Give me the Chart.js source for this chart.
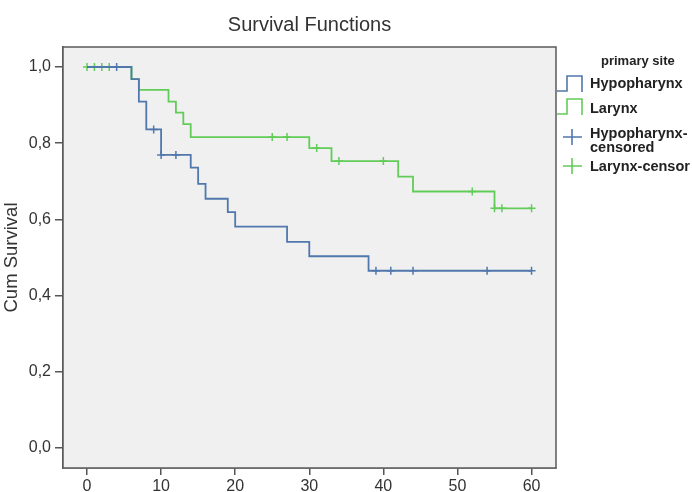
<!DOCTYPE html>
<html>
<head>
<meta charset="utf-8">
<script src="https://cdn.jsdelivr.net/npm/chart.js@4"></script>
<style>
  html, body { margin: 0; padding: 0; background: #fff; overflow: hidden; }
  #wrap { position: relative; width: 692px; height: 492px; }
  #legend { position: absolute; left: 556px; top: 0; width: 136px; height: 492px; overflow: hidden;
            font-family: "Liberation Sans", Arial, sans-serif; font-size: 14.5px; font-weight: bold; color: #222; }
  #legend .ttl { position: absolute; left: 45px; top: 53px; font-size: 13px; }
  #legend .txt { position: absolute; left: 34px; white-space: nowrap; line-height: 16px; }
  #legend svg { position: absolute; left: 0; }
</style>
</head>
<body>
<div id="wrap">
  <canvas id="kmChart" width="692" height="492"></canvas>
  <div id="legend">
    <div class="ttl">primary site</div>
    <svg style="top:74px" width="30" height="20"><path d="M1 17 H11 V2 H26 V18" fill="none" stroke="#5078ac" stroke-width="1.6"/></svg>
    <div class="txt" style="top:75px">Hypopharynx</div>
    <svg style="top:97px" width="30" height="20"><path d="M1 17 H11 V2 H26 V18" fill="none" stroke="#62cc58" stroke-width="1.6"/></svg>
    <div class="txt" style="top:100px">Larynx</div>
    <svg style="top:127px" width="30" height="20"><path d="M7 10 H26 M16 2 V18" fill="none" stroke="#5078ac" stroke-width="1.6"/></svg>
    <div class="txt" style="top:125px">Hypopharynx-</div>
    <div class="txt" style="top:139px">censored</div>
    <svg style="top:156px" width="30" height="20"><path d="M7 10 H26 M16 2 V18" fill="none" stroke="#62cc58" stroke-width="1.6"/></svg>
    <div class="txt" style="top:158px">Larynx-censor</div>
  </div>
</div>
<script>
// tempi (mesi) e sopravvivenza cumulata
const hypoTimes = [0, 6, 7, 8, 10, 14, 15, 16, 19, 20, 27, 30, 38, 60];
const hypoSurv  = [1, 0.968, 0.909, 0.836, 0.769, 0.736, 0.693, 0.654, 0.619, 0.581, 0.541, 0.503, 0.465, 0.465];
const hypoCensTimes = [4, 9, 10, 12, 39, 41, 44, 54, 60];
const hypoCensSurv  = [1, 0.836, 0.769, 0.769, 0.465, 0.465, 0.465, 0.465, 0.465];

const larTimes = [0, 6, 7, 11, 12, 13, 14, 30, 33, 42, 44, 55, 60];
const larSurv  = [1, 0.968, 0.940, 0.909, 0.880, 0.850, 0.816, 0.787, 0.753, 0.712, 0.673, 0.629, 0.629];
const larCensTimes = [0, 1, 2, 3, 25, 27, 31, 34, 40, 52, 55, 56, 60];
const larCensSurv  = [1, 1, 1, 1, 0.816, 0.816, 0.787, 0.753, 0.753, 0.673, 0.629, 0.629, 0.629];

const xTicks = [0, 10, 20, 30, 40, 50, 60];
const yTicks = [0, 0.2, 0.4, 0.6, 0.8, 1.0];

const BLUE = '#5078ac';
const GREEN = '#62cc58';

const toPts = (xs, ys) => xs.map((x, i) => ({ x: x, y: ys[i] }));

// sfondo grigio + cornice dell'area del grafico
const frame = {
  id: 'frame',
  beforeDatasetsDraw(chart) {
    const a = chart.chartArea, c = chart.ctx;
    c.save();
    c.fillStyle = '#f0f0f0';
    c.fillRect(a.left, a.top, a.right - a.left, a.bottom - a.top);
    c.restore();
  },
  afterDatasetsDraw(chart) {
    const a = chart.chartArea, c = chart.ctx;
    c.save();
    c.strokeStyle = '#5a5a5a';
    c.lineWidth = 1.5;
    c.strokeRect(a.left, a.top, a.right - a.left, a.bottom - a.top);
    c.restore();
  }
};

const font = { family: '"Liberation Sans", Arial, sans-serif', size: 16 };

new Chart(document.getElementById('kmChart').getContext('2d'), {
  type: 'scatter',
  data: {
    datasets: [
      { label: 'Hypopharynx', data: toPts(hypoTimes, hypoSurv), showLine: true, stepped: true,
        borderColor: BLUE, borderWidth: 1.8, pointRadius: 0, fill: false },
      { label: 'Larynx', data: toPts(larTimes, larSurv), showLine: true, stepped: true,
        borderColor: GREEN, borderWidth: 1.8, pointRadius: 0, fill: false },
      { label: 'Hypopharynx-censored', data: toPts(hypoCensTimes, hypoCensSurv), pointStyle: 'cross',
        pointRadius: 4, borderColor: BLUE, borderWidth: 1.5 },
      { label: 'Larynx-censored', data: toPts(larCensTimes, larCensSurv), pointStyle: 'cross',
        pointRadius: 4, borderColor: GREEN, borderWidth: 1.5 }
    ]
  },
  options: {
    responsive: false,
    animation: false,
    layout: { padding: { left: 0, right: 136, top: 0, bottom: 0 } },
    plugins: {
      legend: { display: false },
      tooltip: { enabled: false },
      title: {
        display: true, text: 'Survival Functions', fullSize: false,
        color: '#333', font: { family: font.family, size: 20, weight: 'normal' },
        padding: { top: 13, bottom: 10 }
      }
    },
    scales: {
      x: {
        type: 'linear', min: -3.24, max: 63.3,
        afterBuildTicks: s => { s.ticks = xTicks.map(v => ({ value: v })); },
        afterFit: s => { s.height = 24; },
        grid: { drawOnChartArea: false, drawTicks: true, tickLength: 7, color: '#555', lineWidth: 1.5 },
        border: { display: true, color: '#5a5a5a', width: 1.5 },
        ticks: { color: '#333', font: font, padding: 2, maxRotation: 0 }
      },
      y: {
        min: -0.053, max: 1.0525,
        afterBuildTicks: s => { s.ticks = yTicks.map(v => ({ value: v })); },
        afterFit: s => { s.width = 63; },
        grid: { drawOnChartArea: false, drawTicks: true, tickLength: 8, color: '#555', lineWidth: 1.5 },
        border: { display: true, color: '#5a5a5a', width: 1.5 },
        ticks: { color: '#333', font: font, padding: 4,
                 callback: v => v.toFixed(1).replace('.', ',') },
        title: { display: true, text: 'Cum Survival', color: '#333',
                 font: { family: font.family, size: 18.5 }, padding: { top: 1, bottom: 0 } }
      }
    }
  },
  plugins: [frame]
});
</script>
</body>
</html>
